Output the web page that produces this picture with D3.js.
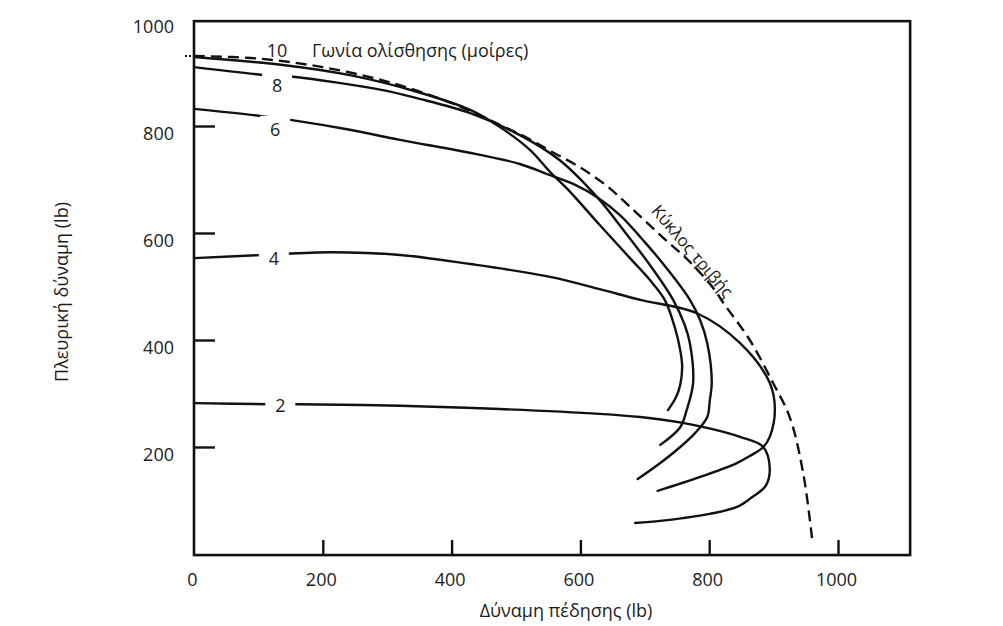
<!DOCTYPE html>
<html><head><meta charset="utf-8">
<script src="https://cdn.jsdelivr.net/npm/d3@7"></script>
<style>
body{margin:0;background:#fff}
svg{display:block}
text{font-family:"Open Sans",sans-serif;fill:#1c1c1c}
</style>
</head><body>
<svg id="c" width="1003" height="626"></svg>
<script>
// ---------- data (lb) ----------
const xTickValues = [0, 200, 400, 600, 800, 1000];
const yTickValues = [200, 400, 600, 800, 1000];
const slipAngles = [2, 4, 6, 8, 10];

// [braking force, lateral force] along each constant-slip-angle curve
const curve2 = [[0,282],[115,280],[160,280],[320,277],[475,271],[630,262],[693,256],[759,245],[848,219],[884,200],[894,160],[888,128],[863,103],[843,88],[801,75],[759,67],[724,62],[685,58]];
const curve4 = [[0,553],[107,559],[213,564],[320,559],[429,542],[553,518],[630,495],[693,475],[781,450],[848,394],[894,320],[902,269],[894,219],[884,200],[863,183],[843,170],[786,144],[720,118]];
const curve6 = [[0,832],[102,819],[152,811],[242,793],[320,774],[424,751],[506,729],[553,708],[592,690],[626,667],[661,634],[700,583],[736,531],[770,475],[786,437],[797,394],[804,320],[801,288],[797,256],[778,226],[755,200],[724,170],[689,140]];
const curve8 = [[0,910],[113,895],[154,892],[293,867],[346,852],[429,824],[506,783],[568,736],[626,667],[669,602],[708,540],[744,475],[762,428],[770,394],[775,320],[765,269],[755,237],[724,204]];
const curve10 = [[0,929],[138,914],[242,895],[346,864],[429,830],[475,798],[522,755],[553,714],[584,677],[630,615],[677,553],[708,512],[731,475],[747,422],[755,381],[758,350],[755,316],[748,292],[736,269]];
const frictionCircle = [[0,931],[100,926],[200,910],[300,883],[387,849],[433,826],[475,802],[517,778],[557,751],[599,723],[641,688],[677,649],[724,596],[770,546],[809,493],[821,471],[863,400],[899,320],[925,256],[946,151],[960,26]];

const xTitle = "Δύναμη πέδησης (lb)";
const yTitle = "Πλευρική δύναμη (lb)";
const angleTitle = "Γωνία ολίσθησης (μοίρες)";
const circleLabel = "Κύκλος τριβής";

// ---------- layout ----------
const svg = d3.select("#c");
const x = d3.scaleLinear().domain([0, 1000]).range([194, 838]);
const y = d3.scaleLinear().domain([0, 1000]).range([554, 19]);
const frameX = [0, 1112], frameY = [-2, 996];

const ink = "#111";

// frame
svg.append("rect")
  .attr("x", x(frameX[0])).attr("y", y(frameY[1]))
  .attr("width", x(frameX[1]) - x(frameX[0]))
  .attr("height", y(frameY[0]) - y(frameY[1]))
  .attr("fill", "none").attr("stroke", ink).attr("stroke-width", 2.6);

// axes
const yAxis = svg.append("g").attr("transform", `translate(${x(0)},0)`)
  .call(d3.axisLeft(y).tickValues(yTickValues).tickSize(-21).tickPadding(20).tickFormat(d3.format("d")));
const xAxis = svg.append("g").attr("transform", `translate(0,${y(0)})`)
  .call(d3.axisBottom(x).tickValues(xTickValues).tickSize(-14).tickPadding(19).tickFormat(d3.format("d")));
[yAxis, xAxis].forEach(g => {
  g.select(".domain").remove();
  g.selectAll(".tick line").attr("stroke", ink).attr("stroke-width", 2.4);
  g.selectAll(".tick text").attr("font-family", '"Open Sans",sans-serif').attr("font-size", 18).attr("fill", "#1c1c1c");
});
yAxis.selectAll(".tick").filter(d => d === 1000).select("line").remove();
xAxis.selectAll(".tick").filter(d => d === 0).select("line").remove();
yAxis.selectAll(".tick text").attr("dy", "0.32em").attr("transform", "translate(0,8)");
xAxis.selectAll(".tick text").attr("transform", "translate(-2,0)");

// axis titles
svg.append("text").attr("x", 566).attr("y", 612).attr("text-anchor", "middle")
  .attr("dominant-baseline", "middle").attr("font-size", 18).text(xTitle);
svg.append("text").attr("transform", "translate(63,292) rotate(-90)").attr("text-anchor", "middle")
  .attr("dominant-baseline", "middle").attr("font-size", 18).text(yTitle);

// curves
const line = d3.line().x(d => x(d[0])).y(d => y(d[1])).curve(d3.curveCatmullRom.alpha(0.5));
const curves = [curve2, curve4, curve6, curve8, curve10];

// friction circle (dashed)
svg.append("path").datum(frictionCircle).attr("d", line)
  .attr("fill", "none").attr("stroke", ink).attr("stroke-width", 2.4)
  .attr("stroke-dasharray", "11,6");
svg.append("line").attr("x1", x(0) - 9).attr("x2", x(0)).attr("y1", y(frictionCircle[0][1])).attr("y2", y(frictionCircle[0][1]))
  .attr("stroke", ink).attr("stroke-width", 2).attr("stroke-dasharray", "2,2");

curves.forEach(c => {
  svg.append("path").datum(c).attr("d", line)
    .attr("fill", "none").attr("stroke", ink).attr("stroke-width", 2.4)
    .attr("stroke-linecap", "round");
});

// curve labels (slip angle)
function interpY(c, xv) {
  for (let i = 1; i < c.length; i++) {
    if (c[i][0] >= xv) {
      const t = (xv - c[i-1][0]) / (c[i][0] - c[i-1][0]);
      return c[i-1][1] + t * (c[i][1] - c[i-1][1]);
    }
  }
  return c[c.length-1][1];
}
const labelX = [134, 124, 126, 129, 129];
const labelDy = [1, 3, 11, 9, -14];
const gapHalf = 15;
slipAngles.forEach((a, i) => {
  const lx = x(labelX[i]);
  const ly = y(interpY(curves[i], labelX[i])) + labelDy[i];
  if (a !== 10) {
    svg.append("rect").attr("x", lx - gapHalf).attr("y", ly - 13).attr("width", gapHalf * 2).attr("height", 26).attr("fill", "#fff");
  }
  svg.append("text").attr("x", lx).attr("y", ly).attr("text-anchor", "middle")
    .attr("dominant-baseline", "central").attr("font-size", 18).text(a);
});
svg.append("text").attr("x", 312).attr("y", y(interpY(curve10, 129)) - 14)
  .attr("dominant-baseline", "central").attr("font-size", 18).text(angleTitle);

// friction circle label
(function(){
  const xv = 760;
  const yv = interpY(frictionCircle, xv);
  const px = x(xv), py = y(yv);
  const x2 = x(xv + 20), y2 = y(interpY(frictionCircle, xv + 20));
  const ang = Math.atan2(y2 - py, x2 - px) * 180 / Math.PI;
  svg.append("text").attr("transform", `translate(${px},${py}) rotate(${ang + 4})`)
    .attr("x", 2).attr("y", -4).attr("text-anchor", "middle").attr("font-size", 17).text(circleLabel);
})();
</script>
</body></html>
